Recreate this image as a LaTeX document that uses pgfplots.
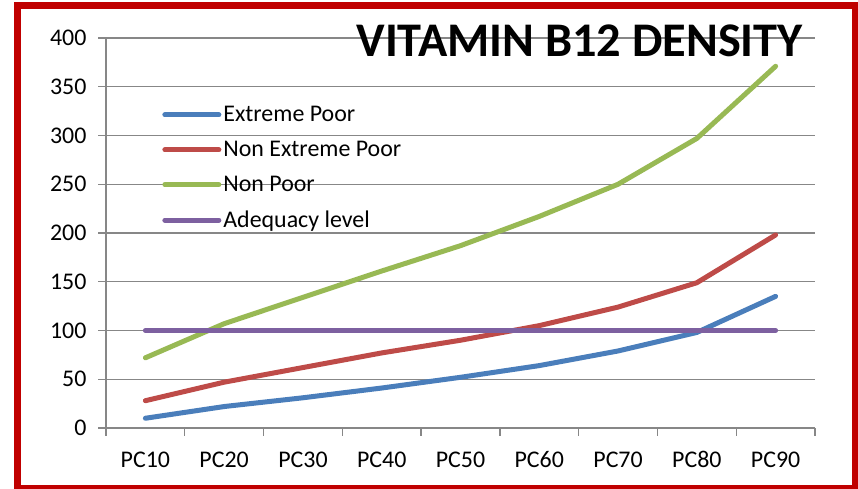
\documentclass[border=0pt]{standalone}
\usepackage{pgfplots}
\pgfplotsset{compat=1.18}
\usepackage{fontspec}
\setmainfont{Carlito}
\definecolor{epblue}{HTML}{4A7EBB}
\definecolor{nepred}{HTML}{BE4B48}
\definecolor{npgreen}{HTML}{98B954}
\definecolor{adpurple}{HTML}{7D60A0}
\definecolor{gridgray}{HTML}{878787}
\definecolor{framered}{HTML}{C00000}
\begin{document}
\begin{tikzpicture}
\useasboundingbox (0bp,0bp) rectangle (858bp,489bp);
\draw[framered, line width=7bp] (17bp,0.5bp) rectangle (855bp,483.5bp);
\begin{axis}[
  at={(106bp,61bp)}, anchor=south west,
  scale only axis, width=709bp, height=390bp,
  xmin=0.5, xmax=9.5, ymin=0, ymax=400,
  axis lines*=left,
  axis line style={gridgray, line width=1.3bp},
  xtick={1,...,9},
  xticklabels={PC10,PC20,PC30,PC40,PC50,PC60,PC70,PC80,PC90},
  major x tick style={draw=none},
  minor xtick={0.5,1.5,...,9.5},
  minor x tick style={gridgray, line width=1.3bp},
  minor tick length=8bp,
  ytick={0,50,...,400},
  major tick length=8bp,
  tick align=outside,
  y tick style={gridgray, line width=1.3bp},
  ymajorgrids,
  major grid style={gridgray, line width=1.3bp},
  tick label style={font=\fontsize{24}{28}\selectfont},
  /pgf/number format/assume math mode=true,
  yticklabel style={xshift=-8bp},
  xticklabel style={yshift=-12bp},
  title={\fontsize{48.5}{52}\selectfont\bfseries VITAMIN B12 DENSITY},
  title style={at={(rel axis cs:1,1)}, anchor=north east, inner sep=0pt, xshift=-12bp, yshift=7bp},
  legend style={at={(rel axis cs:0.075,0.835)}, anchor=north west, draw=none, fill=none,
    font=\fontsize{24}{28}\selectfont, row sep=14bp,
    nodes={inner xsep=2bp, inner ysep=2bp}},
  legend cell align=left,
  legend image code/.code={\draw[#1, line width=5bp, line cap=round] (0bp,0bp) -- (54bp,0bp);},
  every axis plot/.append style={line width=5bp, line cap=round, line join=round},
]
\addplot[epblue] coordinates {(1,10) (2,22) (3,31) (4,41) (5,52) (6,64) (7,79) (8,98) (9,135)};
\addlegendentry{Extreme Poor}
\addplot[nepred] coordinates {(1,28) (2,47) (3,62) (4,77) (5,90) (6,105) (7,124) (8,149) (9,198)};
\addlegendentry{Non Extreme Poor}
\addplot[npgreen] coordinates {(1,72) (2,107) (3,134) (4,161) (5,187) (6,217) (7,250) (8,297) (9,371)};
\addlegendentry{Non Poor}
\addplot[adpurple] coordinates {(1,100) (2,100) (3,100) (4,100) (5,100) (6,100) (7,100) (8,100) (9,100)};
\addlegendentry{Adequacy level}
\end{axis}
\end{tikzpicture}
\end{document}
